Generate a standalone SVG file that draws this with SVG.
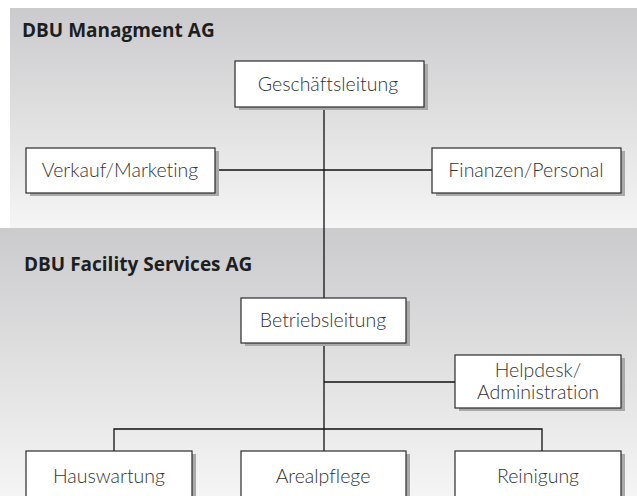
<svg xmlns="http://www.w3.org/2000/svg" width="637" height="496" viewBox="0 0 637 496">
<defs>
<linearGradient id="panel" x1="0" y1="0" x2="0" y2="1">
<stop offset="0" stop-color="#cbcbcd"/>
<stop offset="1" stop-color="#f5f5f5"/>
</linearGradient>
<style>
.box{fill:#ffffff;stroke:#2b2b2b;stroke-width:1.2}
.shadow{fill:#a9a9ab}
.lbl{font-family:Lato,"Open Sans","Liberation Sans",sans-serif;font-weight:300;font-size:19.5px;fill:#333333;text-anchor:middle;font-variant-ligatures:none}
.hdr{font-family:"Open Sans","Liberation Sans",sans-serif;font-weight:700;font-size:19px;fill:#1e1e1e}
.con{stroke:#111111;stroke-width:1.3;fill:none}
</style>
</defs>
<rect x="0" y="0" width="637" height="496" fill="#ffffff"/>
<rect x="10" y="8" width="627" height="220" fill="url(#panel)"/>
<rect x="0" y="228" width="637" height="268" fill="url(#panel)"/>
<text class="hdr" x="22" y="37">DBU Managment AG</text>
<text class="hdr" x="24" y="271">DBU Facility Services AG</text>
<g id="connectors">
<line class="con" x1="324" y1="107" x2="324" y2="298"/>
<line class="con" x1="215" y1="170" x2="432" y2="170"/>
<line class="con" x1="324" y1="343" x2="324" y2="451"/>
<line class="con" x1="324" y1="382" x2="455" y2="382"/>
<polyline class="con" points="114,451 114,429 542,429 542,451"/>
</g>
<g id="geschaeftsleitung">
<rect class="shadow" x="239" y="64" width="189" height="46"/>
<rect class="box" x="235" y="61" width="189" height="46"/>
<text class="lbl" x="328" y="91">Geschäftsleitung</text>
</g>
<g id="verkauf">
<rect class="shadow" x="30" y="151" width="189" height="45"/>
<rect class="box" x="26" y="148" width="189" height="45"/>
<text class="lbl" x="120" y="177">Verkauf/Marketing</text>
</g>
<g id="finanzen">
<rect class="shadow" x="436" y="151" width="189" height="45"/>
<rect class="box" x="432" y="148" width="189" height="45"/>
<text class="lbl" x="526" y="177">Finanzen/Personal</text>
</g>
<g id="betriebsleitung">
<rect class="shadow" x="245" y="301" width="165" height="45"/>
<rect class="box" x="241" y="298" width="165" height="45"/>
<text class="lbl" x="323" y="327">Betriebsleitung</text>
</g>
<g id="helpdesk">
<rect class="shadow" x="459" y="358" width="166" height="53"/>
<rect class="box" x="455" y="355" width="166" height="53"/>
<text class="lbl" x="538" y="377">Helpdesk/</text>
<text class="lbl" x="538" y="399">Administration</text>
</g>
<g id="hauswartung">
<rect class="shadow" x="30" y="454" width="166" height="50"/>
<rect class="box" x="26" y="451" width="166" height="50"/>
<text class="lbl" x="109" y="483">Hauswartung</text>
</g>
<g id="arealpflege">
<rect class="shadow" x="245" y="454" width="165" height="50"/>
<rect class="box" x="241" y="451" width="165" height="50"/>
<text class="lbl" x="323" y="483">Arealpflege</text>
</g>
<g id="reinigung">
<rect class="shadow" x="459" y="454" width="166" height="50"/>
<rect class="box" x="455" y="451" width="166" height="50"/>
<text class="lbl" x="538" y="483">Reinigung</text>
</g>
</svg>
